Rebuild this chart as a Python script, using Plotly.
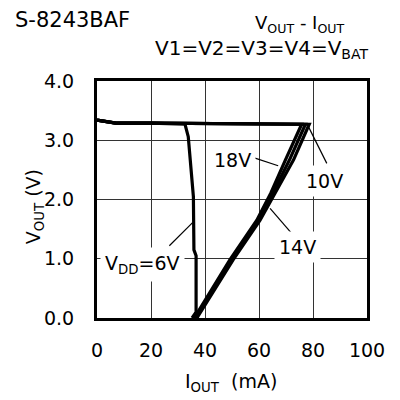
import plotly.graph_objects as go

# ---- data ----
x_ticks = [0, 20, 40, 60, 80, 100]
y_ticks = [0.0, 1.0, 2.0, 3.0, 4.0]

vdd6_i = [0, 7, 20, 32.6, 33.8, 34.7, 35.7, 35.9, 36.7, 36.7, 35.2]
vdd6_v = [3.34, 3.29, 3.29, 3.27, 3.06, 2.55, 2.05, 1.15, 1.05, 0.10, 0.0]

vdd10_i = [0, 7, 20, 40, 60, 78.6, 72.8, 66.0, 60.4, 50.4, 37.0]
vdd10_v = [3.34, 3.29, 3.29, 3.28, 3.28, 3.27, 2.67, 2.11, 1.65, 0.98, 0.0]

vdd14_i = [0, 7, 20, 40, 60, 77.2, 71.3, 65.2, 59.8, 49.8, 36.5]
vdd14_v = [3.34, 3.29, 3.29, 3.28, 3.28, 3.27, 2.67, 2.11, 1.65, 0.98, 0.0]

vdd18_i = [0, 7, 20, 40, 60, 75.8, 69.8, 64.4, 59.2, 49.2, 36.0]
vdd18_v = [3.34, 3.29, 3.29, 3.28, 3.28, 3.27, 2.67, 2.11, 1.65, 0.98, 0.0]

FONT = "DejaVu Sans, Liberation Sans, Arial"

fig = go.Figure()
for xi, yi, w in [(vdd10_i, vdd10_v, 3.2), (vdd14_i, vdd14_v, 3.2),
                  (vdd18_i, vdd18_v, 3.2), (vdd6_i, vdd6_v, 3.2)]:
    fig.add_trace(go.Scatter(x=xi, y=yi, mode="lines",
                             line=dict(color="black", width=w),
                             showlegend=False, hoverinfo="skip"))

# leader lines
leaders = [
    ((78.3, 3.23), (85.1, 2.61)),
    ((57.7, 2.71), (67.1, 2.57)),
    ((64.1, 1.85), (72.1, 1.43)),
    ((26.8, 1.22), (35.4, 1.61)),
]
for (xa, ya), (xb, yb) in leaders:
    fig.add_shape(type="line", x0=xa, y0=ya, x1=xb, y1=yb, xref="x", yref="y",
                  line=dict(color="black", width=1.2), layer="above")

labels = [
    ("18V", 50.2, 2.67),
    ("10V", 84.4, 2.31),
    ("14V", 74.3, 1.20),
    ("V<sub>DD</sub>=6V", 17.0, 0.90),
]
for t, x, y in labels:
    fig.add_annotation(text=t, x=x, y=y, xref="x", yref="y", showarrow=False,
                       bgcolor="white", borderpad=4,
                       font=dict(family=FONT, size=19, color="black"))

# titles / axis titles
fig.add_annotation(text="S-8243BAF", x=-0.312, y=1.257, xref="paper", yref="paper",
                   xanchor="left", yanchor="middle", showarrow=False,
                   font=dict(family=FONT, size=21, color="black"))
fig.add_annotation(text="V<sub>OUT</sub> - I<sub>OUT</sub>", x=0.578, y=1.24,
                   xref="paper", yref="paper", xanchor="left", yanchor="middle",
                   showarrow=False, font=dict(family=FONT, size=18, color="black"))
fig.add_annotation(text="V1=V2=V3=V4=V<sub>BAT</sub>", x=0.207, y=1.135,
                   xref="paper", yref="paper", xanchor="left", yanchor="middle",
                   showarrow=False, font=dict(family=FONT, size=20, color="black"))
fig.add_annotation(text="V<sub>OUT</sub> (V)", x=-0.233, y=0.468, xref="paper", yref="paper",
                   textangle=-90, xanchor="center", yanchor="middle", showarrow=False,
                   font=dict(family=FONT, size=19, color="black"))
fig.add_annotation(text="I<sub>OUT</sub>  (mA)", x=0.498, y=-0.274, xref="paper", yref="paper",
                   xanchor="center", yanchor="middle", showarrow=False,
                   font=dict(family=FONT, size=19, color="black"))

fig.update_xaxes(range=[0, 100], tickvals=x_ticks, ticktext=[str(v) for v in x_ticks],
                 showgrid=True, gridcolor="#333", gridwidth=1, zeroline=False,
                 showline=True, linecolor="black", linewidth=3, mirror=True,
                 ticks="", ticklabelstandoff=13,
                 tickfont=dict(family=FONT, size=19, color="black"))
fig.update_yaxes(range=[0, 4], tickvals=y_ticks, ticktext=[f"{v:.1f}" for v in y_ticks],
                 showgrid=True, gridcolor="#333", gridwidth=1, zeroline=False,
                 showline=True, linecolor="black", linewidth=3, mirror=True,
                 ticks="", ticklabelstandoff=16,
                 tickfont=dict(family=FONT, size=19, color="black"))

# the page adds an 8px body margin, so the figure is 392px and margins compensate
fig.update_layout(width=392, height=392, margin=dict(l=89, r=33, t=73, b=82),
                  plot_bgcolor="white", paper_bgcolor="white")
fig.write_html("out.html")
